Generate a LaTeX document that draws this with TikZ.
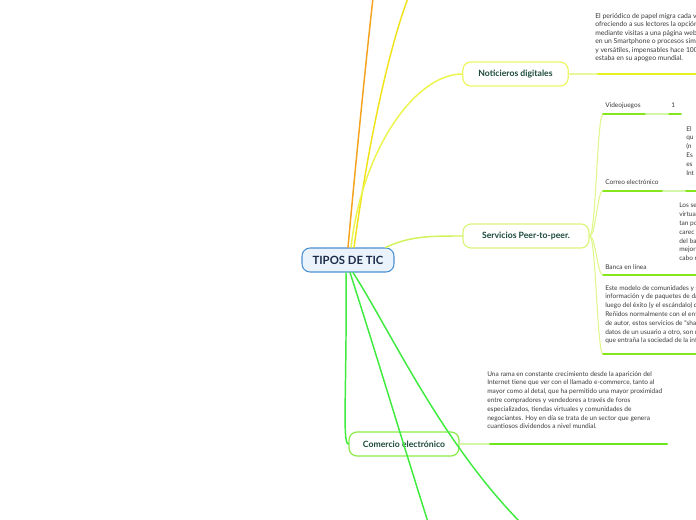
\documentclass[tikz,border=0pt]{standalone}
\usepackage{fontspec}
\setmainfont{Lato}
\usetikzlibrary{calc}
\definecolor{raizfondo}{HTML}{EAF3FB}
\definecolor{raizborde}{HTML}{4A90D0}
\definecolor{raiztexto}{HTML}{1C2B4A}
\definecolor{tematexto}{HTML}{1B4A3A}
\definecolor{notatexto}{HTML}{3A3A3A}
\definecolor{naranja}{HTML}{F5A21E}
\definecolor{amarillo}{HTML}{F2E21A}
\definecolor{amarillolima}{HTML}{E6F21E}
\definecolor{limaclaro}{HTML}{E8F79A}
\definecolor{lima}{HTML}{D2F25A}
\definecolor{verdesub}{HTML}{86E61E}
\definecolor{verdeclaro}{HTML}{D2F7A8}
\definecolor{verde}{HTML}{3EEB3E}
\definecolor{verdecom}{HTML}{6AE81A}

\begin{document}
\begin{tikzpicture}[x=0.75pt,y=-0.75pt,line cap=round]
\tikzstyle{raiz}=[draw=raizborde,fill=raizfondo,rounded corners=6pt,line width=0.8pt,minimum width=69pt,minimum height=18pt,font=\fontsize{8.5}{10}\selectfont\bfseries,text=raiztexto]
\tikzstyle{tema}=[fill=white,rounded corners=6pt,line width=0.9pt,minimum height=18pt,font=\fontsize{6.5}{8}\selectfont\bfseries,text=tematexto]
\tikzstyle{nota}=[anchor=north west,inner sep=0pt,align=left,font=\fontsize{4.9}{6.6}\selectfont,text=notatexto]
\tikzstyle{sub}=[anchor=base west,inner sep=0pt,font=\fontsize{4.9}{6.6}\selectfont,text=notatexto]
\tikzstyle{rama}=[line width=1.1pt]
\useasboundingbox (0,0) rectangle (696,520);
\clip (0,0) rectangle (696,520);

\node[raiz] (tic) at (348,260) {TIPOS DE TIC};
\node[tema,draw=amarillolima!70,minimum width=79pt] (noti) at (515.5,74) {Noticieros digitales};
\node[tema,draw=lima!80,minimum width=94.5pt] (serv) at (526,236) {Servicios Peer-to-peer.};
\node[tema,draw=verdecom!80,minimum width=82.5pt] (come) at (404,444) {Comercio electrónico};

\coordinate (finNaranja) at (373,-2); \coordinate (finAmarillo) at (408,-2);
\coordinate (finVerdeA) at (428,522); \coordinate (finVerdeB) at (520,522);
\draw[rama,naranja] (tic.north) .. controls (355,170) and (366,60) .. (finNaranja);
\draw[rama,amarillo] ($(tic.north)+(6,0)$) .. controls (366,160) and (385,60) .. (finAmarillo);
\draw[rama,amarillolima!80] ($(tic.north)+(3,0)$) .. controls (362,150) and (415,74) .. (noti.west);
\draw[rama,lima] ($(tic.north east)+(-9,0)$) .. controls (410,236) and (430,236) .. (serv.west);
\draw[rama,verde] ($(tic.south)+(-2,0)$) .. controls (347,390) and (342,444) .. (come.west);
\draw[rama,verde] ($(tic.south)+(2,0)$) .. controls (375,350) and (405,450) .. (finVerdeA);
\draw[rama,verde] ($(tic.south)+(5,0)$) .. controls (390,330) and (440,440) .. (finVerdeB);

\coordinate (n1) at (598,74); \coordinate (n2) at (700,74);
\draw[line width=1.2pt,limaclaro] (noti.east) -- (n1);
\draw[line width=1.6pt,amarillolima] (n1) -- (n2);
\node[nota,font=\fontsize{5.1}{6.4}\selectfont] (notaNoti) at (595,13) {El periódico de papel migra cada vez\\ofreciendo a sus lectores la opción d\\mediante visitas a una página web, d\\en un Smartphone o procesos simila\\y versátiles, impensables hace 100 a\\estaba en su apogeo mundial.};

\coordinate (v0) at (603,114); \coordinate (v1) at (681,114);
\coordinate (c0) at (603,191); \coordinate (c1) at (700,191);
\coordinate (b0) at (603,275); \coordinate (b1) at (700,275);
\coordinate (m0) at (603,354); \coordinate (m1) at (700,354);
\draw[line width=0.8pt,lima!70] (serv.east) .. controls (596,236) and (597,114) .. (v0);
\draw[line width=0.8pt,lima!70] (serv.east) .. controls (596,236) and (597,191) .. (c0);
\draw[line width=0.8pt,lima!70] (serv.east) .. controls (596,236) and (597,275) .. (b0);
\draw[line width=0.8pt,lima!70] (serv.east) .. controls (596,236) and (597,354) .. (m0);
\draw[line width=1.1pt,verdeclaro] (v0) -- (v1); \draw[line width=1.1pt,verdesub] (v0) -- (645,114); \draw[line width=1.1pt,verdesub] (669,114) -- (v1);
\draw[line width=1.1pt,verdeclaro] (c0) -- (c1); \draw[line width=1.1pt,verdesub] (c0) -- (662,191); \draw[line width=1.1pt,verdesub] (686,191) -- (c1);
\draw[line width=1.1pt,verdesub] (b0) -- (b1);
\draw[line width=1.1pt,verdesub] (m0) -- (m1);
\node[sub] (video) at (605,108) {Videojuegos};
\node[sub] (uno) at (671,108) {1};
\node[nota] (notaVideo) at (686,126) {El\\qu\\(n\\Es\\es\\Int};
\node[sub] (correo) at (605,185) {Correo electrónico};
\node[nota] (notaCorreo) at (679,203) {Los se\\virtual\\tan po\\carec\\del ba\\mejor\\cabo r};
\node[sub] (banca) at (605,270) {Banca en línea};
\node[nota] (notaBanca) at (605,285) {Este modelo de comunidades y s\\información y de paquetes de da\\luego del éxito (y el escándalo) d\\Reñidos normalmente con el enf\\de autor, estos servicios de “shar\\datos de un usuario a otro, son u\\que entraña la sociedad de la info};

\coordinate (k1) at (490,444); \coordinate (k2) at (667,444);
\draw[line width=1.2pt,verdeclaro] (come.east) -- (k1);
\draw[line width=1.5pt,verdecom] (k1) -- (k2);
\node[nota] (notaCome) at (487,371) {Una rama en constante crecimiento desde la aparición del\\Internet tiene que ver con el llamado e-commerce, tanto al\\mayor como al detal, que ha permitido una mayor proximidad\\entre compradores y vendedores a través de foros\\especializados, tiendas virtuales y comunidades de\\negociantes. Hoy en día se trata de un sector que genera\\cuantiosos dividendos a nivel mundial.};
\end{tikzpicture}
\end{document}
